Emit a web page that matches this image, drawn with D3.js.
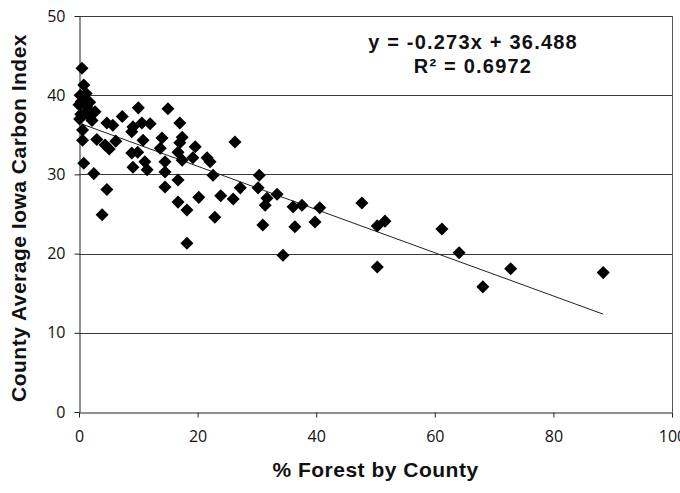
<!DOCTYPE html>
<html>
<head>
<meta charset="utf-8">
<script src="https://cdn.jsdelivr.net/npm/d3@7"></script>
<style>
  body { margin: 0; background: #fff; }
  svg { display: block; }
</style>
</head>
<body>
<script>
/** Data */
const forestPct = [
  0.5, 0.8, 0.2, 1.0, 1.8, 0.0, 1.3, 0.3, 2.7, 1.8, 0.6, 0.6, 0.8, 2.5, 4.7, 3.9,
  3.0, 4.4, 5.1, 6.2, 4.7, 5.7, 7.3, 9.1, 8.9, 8.9, 9.1, 10.0, 15.0, 10.6, 12.0, 17.0,
  14.0, 17.4, 10.8, 13.7, 17.0, 19.6, 16.7, 9.9, 21.6, 11.1, 14.5, 22.1, 19.2, 17.4,
  11.5, 14.5, 14.5, 16.7, 16.7, 18.2, 20.2, 22.9, 18.2, 26.3, 22.6, 30.4, 30.2, 27.2,
  23.9, 26.0, 31.7, 33.4, 31.4, 36.1, 37.6, 40.6, 47.7, 50.3, 51.6, 31.0, 36.4, 39.8,
  34.4, 50.3, 61.2, 64.1, 68.1, 72.8, 88.4, 1.2, 0.4, 2.2, 0.1, 1.5
];
const carbonIndex = [
  43.4, 41.3, 40.0, 39.6, 39.1, 38.8, 38.5, 37.6, 37.9, 37.3, 35.6, 34.3, 31.4, 30.1, 28.1, 24.9,
  34.4, 33.7, 33.2, 34.2, 36.5, 36.2, 37.3, 36.0, 35.4, 32.7, 30.9, 38.4, 38.3, 36.5, 36.4, 36.5,
  34.6, 34.7, 34.3, 33.3, 34.0, 33.5, 32.8, 32.8, 32.1, 31.6, 31.6, 31.6, 32.1, 31.8,
  30.6, 30.3, 28.4, 29.3, 26.5, 25.5, 27.1, 24.6, 21.3, 34.1, 29.9, 29.9, 28.3, 28.3,
  27.3, 26.9, 27.0, 27.5, 26.1, 25.9, 26.1, 25.8, 26.4, 23.5, 24.1, 23.6, 23.4, 24.0,
  19.8, 18.3, 23.1, 20.1, 15.8, 18.1, 17.6, 40.2, 39.2, 36.8, 37.0, 38.0
];
const xTicks = [0, 20, 40, 60, 80, 100];
const yTicks = [0, 10, 20, 30, 40, 50];
const slope = -0.273;
const intercept = 36.488;
const equationLines = ["y = -0.273x + 36.488", "R² = 0.6972"];

/** Layout */
const width = 680;
const height = 493;
const plot = { left: 79, right: 672, top: 16, bottom: 412 };
const titleFont = "'Liberation Sans', Arial, sans-serif";
const tickFont = "'Open Sans', 'Liberation Sans', Arial, sans-serif";

const points = forestPct.map((x, i) => ({ x: x, y: carbonIndex[i] }));

const svg = d3.select("body").append("svg")
  .attr("width", width)
  .attr("height", height);

const x = d3.scaleLinear().domain([0, 100]).range([plot.left, plot.right]);
const y = d3.scaleLinear().domain([0, 50]).range([plot.bottom, plot.top]);

// horizontal gridlines
svg.append("g")
  .selectAll("line")
  .data(yTicks.filter(d => d > 0))
  .enter()
  .append("line")
  .attr("x1", plot.left)
  .attr("x2", plot.right)
  .attr("y1", d => Math.round(y(d)) + 0.5)
  .attr("y2", d => Math.round(y(d)) + 0.5)
  .attr("stroke", "#3a3a3a")
  .attr("stroke-width", 1);

// right border of plot area
svg.append("line")
  .attr("x1", plot.right + 0.5).attr("x2", plot.right + 0.5)
  .attr("y1", plot.top).attr("y2", plot.bottom)
  .attr("stroke", "#555");

// axes
const yAxis = svg.append("g")
  .attr("transform", "translate(" + (plot.left + 0.5) + ",0)")
  .call(d3.axisLeft(y).tickValues(yTicks).tickSize(5).tickPadding(9).tickSizeOuter(0));

const xAxis = svg.append("g")
  .attr("transform", "translate(0," + (plot.bottom + 0.5) + ")")
  .call(d3.axisBottom(x).tickValues(xTicks).tickSize(5).tickPadding(13).tickSizeOuter(0));

[xAxis, yAxis].forEach(ax => {
  ax.select(".domain").attr("stroke", "#222");
  ax.selectAll(".tick line").attr("stroke", "#222");
  ax.selectAll("text")
    .attr("font-family", tickFont)
    .attr("font-size", "16px")
    .attr("fill", "#111");
});

// trend line
const trendX = d3.extent(forestPct);
const line = d3.line().x(d => x(d)).y(d => y(slope * d + intercept));
svg.append("path")
  .attr("d", line(trendX))
  .attr("fill", "none")
  .attr("stroke", "#222")
  .attr("stroke-width", 1);

// diamond markers
const diamond = d3.symbol().type(d3.symbolSquare).size(85);
svg.append("g")
  .selectAll("path")
  .data(points)
  .enter()
  .append("path")
  .attr("d", diamond)
  .attr("transform", d => "translate(" + x(d.x) + "," + y(d.y) + ") rotate(45)")
  .attr("fill", "#000");

// equation
svg.append("g")
  .selectAll("text")
  .data(equationLines)
  .enter()
  .append("text")
  .attr("x", 473)
  .attr("y", (d, i) => 49 + i * 24)
  .attr("text-anchor", "middle")
  .attr("font-family", titleFont)
  .attr("font-weight", "bold")
  .attr("font-size", "20px")
  .attr("letter-spacing", "1.2px")
  .attr("fill", "#111")
  .text(d => d);

// axis titles
svg.append("text")
  .attr("x", (plot.left + plot.right) / 2)
  .attr("y", 477)
  .attr("text-anchor", "middle")
  .attr("font-family", titleFont)
  .attr("font-weight", "bold")
  .attr("font-size", "21px")
  .attr("letter-spacing", "0.5px")
  .attr("fill", "#111")
  .text("% Forest by County");

svg.append("text")
  .attr("transform", "translate(26,218) rotate(-90)")
  .attr("text-anchor", "middle")
  .attr("font-family", titleFont)
  .attr("font-weight", "bold")
  .attr("font-size", "21px")
  .attr("letter-spacing", "0.5px")
  .attr("fill", "#111")
  .text("County Average Iowa Carbon Index");
</script>
</body>
</html>
